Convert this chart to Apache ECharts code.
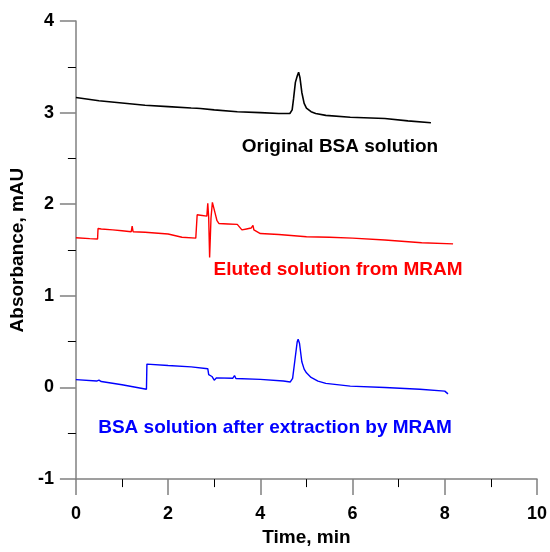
<!DOCTYPE html>
<html lang="en">
<head>
  <meta charset="UTF-8">
  <title>Absorbance chromatograms</title>
  <script src="https://cdn.jsdelivr.net/npm/echarts@6/dist/echarts.min.js"></script>
  <style>
    body { margin: 0; background: #fff; }
  </style>
</head>
<body>
  <div id="main" style="width: 550px;height:552px;"></div>

  <script type="text/javascript">
    // Original BSA solution (black)
    const blackTime = [0, 0.5, 1, 1.5, 2, 2.5, 2.62, 2.66, 2.7, 3, 3.5, 4, 4.4, 4.64, 4.69, 4.72, 4.76, 4.8, 4.83, 4.86, 4.9, 4.95, 5.0, 5.1, 5.2, 5.42, 5.95, 6.7, 7.2, 7.7];
    const blackAbs = [3.165, 3.13, 3.105, 3.08, 3.065, 3.05, 3.048, 3.065, 3.045, 3.03, 3.01, 3.0, 2.99, 2.99, 3.03, 3.15, 3.33, 3.40, 3.44, 3.38, 3.22, 3.10, 3.05, 3.01, 2.99, 2.97, 2.95, 2.935, 2.91, 2.89];

    // Eluted solution from MRAM (red)
    const redTime = [0, 0.3, 0.47, 0.48, 0.55, 0.8, 1.0, 1.2, 1.22, 1.24, 1.5, 2.0, 2.3, 2.6, 2.62, 2.63, 2.7, 2.84, 2.86, 2.88, 2.9, 2.93, 2.96, 2.99, 3.02, 3.06, 3.1, 3.3, 3.5, 3.55, 3.6, 3.7, 3.8, 3.84, 3.86, 3.9, 4.0, 4.4, 5.0, 5.5, 6, 6.7, 7.5, 8.18];
    const redAbs = [1.635, 1.625, 1.62, 1.735, 1.73, 1.72, 1.71, 1.70, 1.76, 1.70, 1.695, 1.675, 1.64, 1.63, 1.63, 1.885, 1.88, 1.87, 2.01, 1.85, 1.42, 1.85, 2.02, 2.0, 1.9, 1.82, 1.79, 1.785, 1.78, 1.75, 1.72, 1.73, 1.74, 1.77, 1.72, 1.70, 1.68, 1.67, 1.645, 1.64, 1.63, 1.61, 1.58, 1.567];

    // BSA solution after extraction by MRAM (blue)
    const blueTime = [0, 0.45, 0.5, 0.55, 1.0, 1.53, 1.54, 2.0, 2.5, 2.86, 2.88, 2.95, 3.0, 3.05, 3.4, 3.44, 3.47, 4.0, 4.5, 4.65, 4.7, 4.75, 4.8, 4.82, 4.85, 4.9, 4.95, 5.0, 5.1, 5.25, 5.42, 5.95, 6.7, 7.46, 8.0, 8.07];
    const blueAbs = [0.086, 0.07, 0.08, 0.065, 0.03, -0.02, 0.255, 0.24, 0.225, 0.205, 0.14, 0.12, 0.08, 0.105, 0.1, 0.13, 0.098, 0.088, 0.07, 0.06, 0.1, 0.3, 0.5, 0.527, 0.48, 0.28, 0.2, 0.16, 0.11, 0.07, 0.045, 0.015, 0.0, -0.02, -0.04, -0.07];

    const labelFont = 'Liberation Sans, Arial, sans-serif';

    function pairs(xs, ys) {
      return xs.map((x, i) => [x, ys[i]]);
    }

    function axisStyle() {
      return {
        axisLine: { show: true, onZero: false, lineStyle: { color: '#808080', width: 1.5 } },
        axisTick: { show: true, inside: false, length: 16, lineStyle: { color: '#808080', width: 1.5 } },
        minorTick: { show: true, splitNumber: 2, length: 8, lineStyle: { color: '#000', width: 1 } },
        splitLine: { show: false },
        minorSplitLine: { show: false },
        nameTextStyle: { fontFamily: labelFont, fontWeight: 'bold', fontSize: 19, color: '#000' }
      };
    }

    let options = {
      animation: false,
      backgroundColor: '#fff',
      grid: { left: 75, right: 11, top: 21, bottom: 66 },
      xAxis: Object.assign(axisStyle(), {
        type: 'value',
        min: 0, max: 10, interval: 2,
        name: 'Time, min',
        nameLocation: 'middle',
        nameGap: 46,
        axisLabel: { fontFamily: labelFont, fontWeight: 'bold', fontSize: 18, color: '#000', margin: 26 }
      }),
      yAxis: Object.assign(axisStyle(), {
        type: 'value',
        min: -1, max: 4, interval: 1,
        name: 'Absorbance, mAU',
        nameLocation: 'middle',
        nameGap: 46,
        axisLabel: { fontFamily: labelFont, fontWeight: 'bold', fontSize: 18, color: '#000', margin: 22 }
      }),
      series: [
        { name: 'Original BSA solution', type: 'line', data: pairs(blackTime, blackAbs), showSymbol: false, lineStyle: { color: '#000', width: 1.6 } },
        { name: 'Eluted solution from MRAM', type: 'line', data: pairs(redTime, redAbs), showSymbol: false, lineStyle: { color: '#ff0000', width: 1.4 } },
        { name: 'BSA solution after extraction by MRAM', type: 'line', data: pairs(blueTime, blueAbs), showSymbol: false, lineStyle: { color: '#0000ff', width: 1.4 } }
      ],
      graphic: [
        { type: 'text', x: 340, y: 147, style: { text: 'Original BSA solution', fill: '#000', font: 'bold 19px ' + labelFont, textAlign: 'center', textVerticalAlign: 'middle' } },
        { type: 'text', x: 338, y: 270, style: { text: 'Eluted solution from MRAM', fill: '#ff0000', font: 'bold 19px ' + labelFont, textAlign: 'center', textVerticalAlign: 'middle' } },
        { type: 'text', x: 275, y: 428, style: { text: 'BSA solution after extraction by MRAM', fill: '#0000ff', font: 'bold 19px ' + labelFont, textAlign: 'center', textVerticalAlign: 'middle' } }
      ]
    };

    let myChart = echarts.init(document.getElementById('main'));
    myChart.setOption(options);
  </script>
</body>
</html>
